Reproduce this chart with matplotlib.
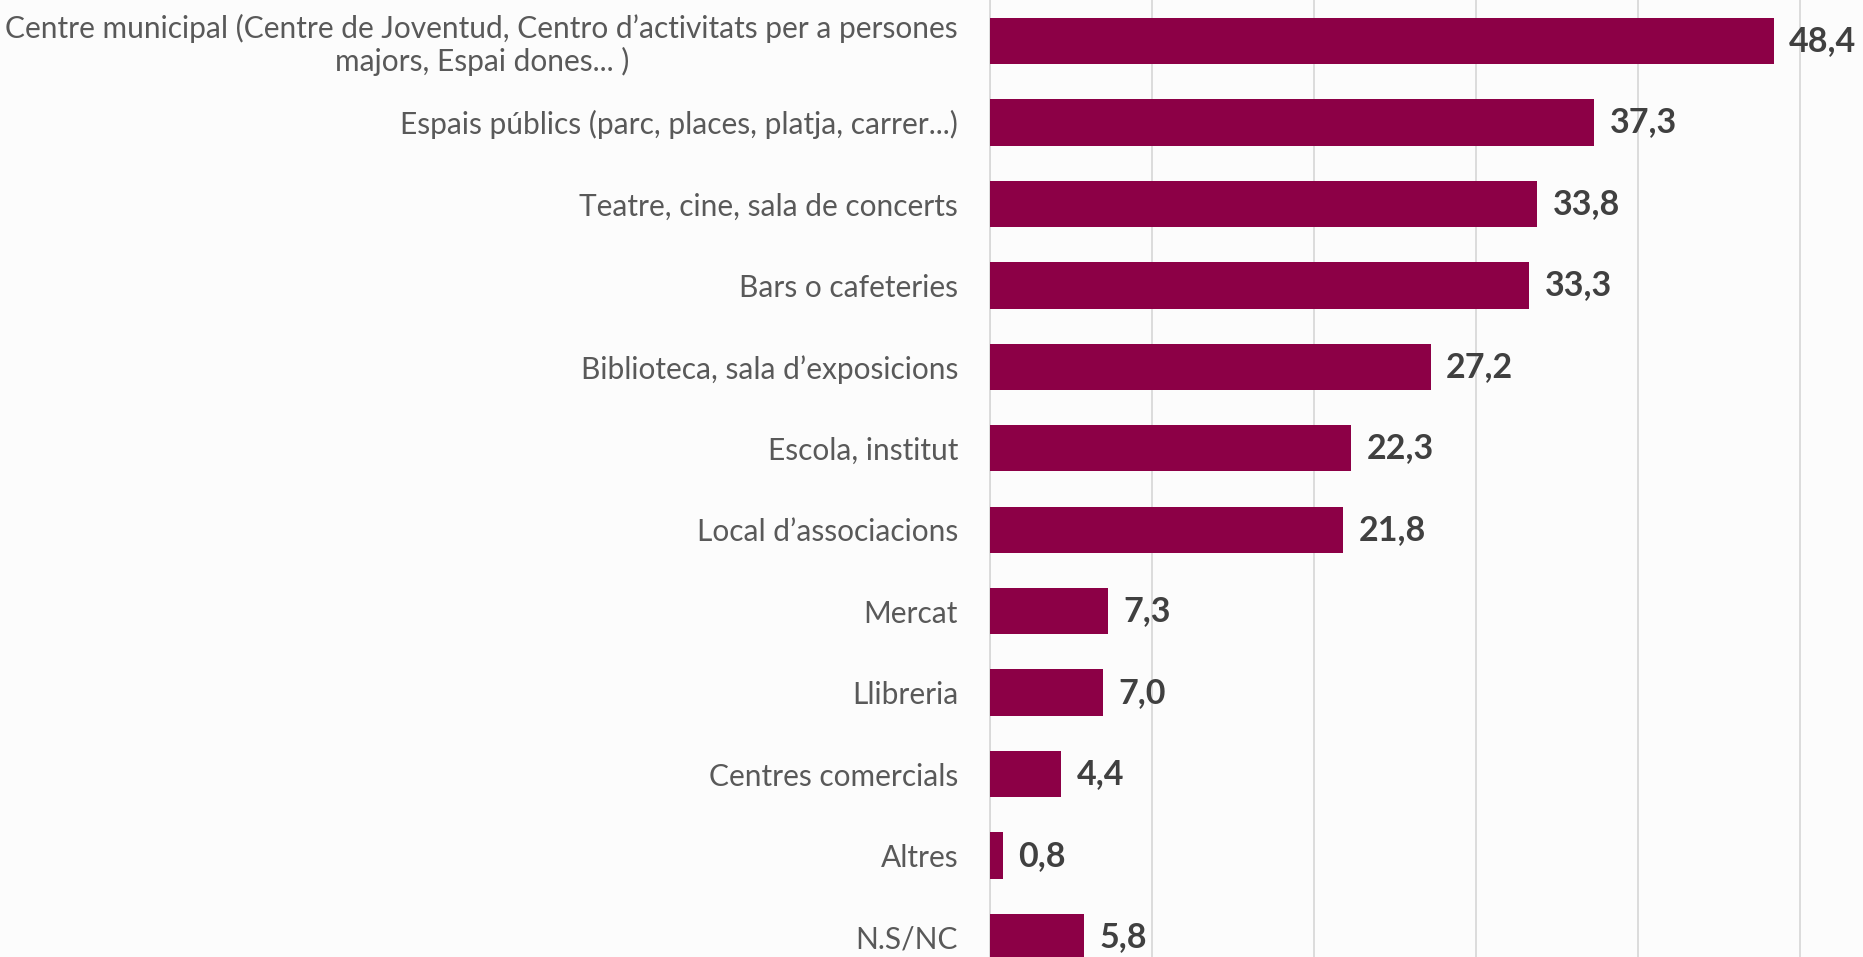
import matplotlib
matplotlib.use("Agg")
import matplotlib.pyplot as plt

categories = [
    "Centre municipal (Centre de Joventud, Centro d\u2019activitats per a persones\nmajors, Espai dones... )",
    "Espais públics (parc, places, platja, carrer...)",
    "Teatre, cine, sala de concerts",
    "Bars o cafeteries",
    "Biblioteca, sala d\u2019exposicions",
    "Escola, institut",
    "Local d\u2019associacions",
    "Mercat",
    "Llibreria",
    "Centres comercials",
    "Altres",
    "N.S/NC",
]
values = [48.4, 37.3, 33.8, 33.3, 27.2, 22.3, 21.8, 7.3, 7.0, 4.4, 0.8, 5.8]

BAR = "#8C0046"
BG = "#FCFCFC"

plt.rcParams["font.family"] = ["Lato", "DejaVu Sans"]

fig = plt.figure(figsize=(18.63, 9.57), dpi=100, facecolor=BG)
# axes from the value axis at x=990px to the right edge; rows run off top/bottom
ax = fig.add_axes([990 / 1863, 0.0, 1 - 990 / 1863, 1.0], facecolor=BG)

y = list(range(len(categories)))
ax.barh(y, values, height=0.57, color=BAR, zorder=3)

for yi, v in zip(y, values):
    ax.text(v + 0.95, yi, f"{v:.1f}".replace(".", ","), va="center", ha="left",
            fontsize=24.5, fontweight="bold", color="#404040", zorder=4)

ax.set_xlim(0, 53.9)
ax.set_ylim(11.245, -0.503)
ax.set_xticks([0, 10, 20, 30, 40, 50])
ax.xaxis.grid(True, color="#D9D9D9", lw=1.3, zorder=0)
ax.tick_params(axis="x", length=0, labelbottom=False)
ax.set_yticks(y)
ax.set_yticklabels(categories, fontsize=21.5, color="#595959",
                   multialignment="center", linespacing=1.15)
ax.tick_params(axis="y", length=0, pad=23)
for s in ("top", "right", "bottom"):
    ax.spines[s].set_visible(False)
ax.spines["left"].set_color("#D9D9D9")
ax.spines["left"].set_linewidth(1.3)

fig.savefig("out.png", dpi=100, facecolor=BG)
